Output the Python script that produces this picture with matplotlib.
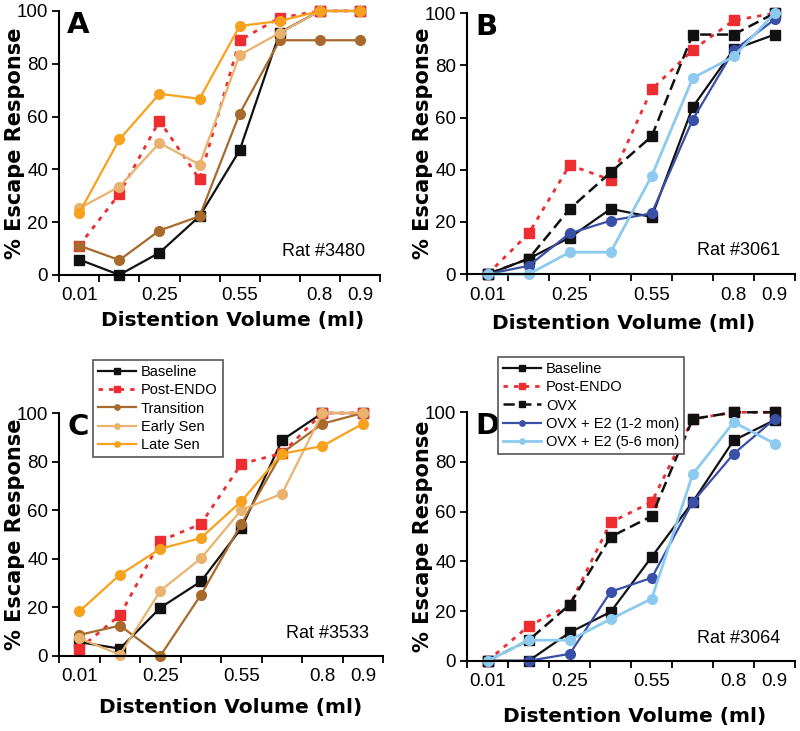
import matplotlib.pyplot as plt
import numpy as np

# category axis: 8 distention volumes (only some are labelled in the figure)
volumes = ['0.01', '0.1', '0.25', '0.4', '0.55', '0.7', '0.8', '0.9']
tick_labels = ['0.01', '', '0.25', '', '0.55', '', '0.8', '0.9']

# panel A, Rat #3480
a_baseline = [5.8, 0, 8.4, 22.2, 47.2, 91.8, 100, 100]
a_post_endo = [11.1, 30.7, 58.4, 36.2, 88.9, 97.4, 100, 100]
a_transition = [11.1, 5.6, 16.8, 22.2, 61.1, 88.9, 88.9, 88.9]
a_early_sen = [25.2, 33.4, 50.0, 41.8, 83.3, 91.7, 100, 100]
a_late_sen = [23.5, 51.3, 68.6, 66.7, 94.3, 96.2, 100, 100]

# panel B, Rat #3061
b_baseline = [0, 5.9, 14.0, 25.0, 21.9, 64.0, 86.1, 91.8]
b_post_endo = [0, 15.6, 41.8, 36.1, 70.8, 85.9, 97.2, 100]
b_ovx = [0, 5.9, 25.0, 39.0, 52.8, 91.8, 91.8, 100]
b_e2_early = [0, 3.2, 15.6, 20.5, 23.3, 59.2, 85.7, 97.6]
b_e2_late = [0, 0, 8.4, 8.4, 37.6, 75.1, 83.4, 100]

# panel C, Rat #3533
c_baseline = [5.6, 2.9, 19.8, 30.6, 52.6, 88.8, 100, 100]
c_post_endo = [2.9, 16.7, 47.3, 54.3, 79.1, 83.4, 100, 100]
c_transition = [8.6, 12.4, 0, 25.1, 54.3, 83.5, 95.6, 100]
c_early_sen = [7.2, 0.4, 26.8, 40.1, 60.1, 66.7, 100, 100]
c_late_sen = [18.3, 33.4, 44.1, 48.5, 63.7, 83.2, 86.4, 95.6]

# panel D, Rat #3064
d_baseline = [0, 0, 11.4, 19.7, 41.8, 63.9, 88.7, 96.9]
d_post_endo = [0, 14.0, 22.5, 55.7, 63.9, 97.3, 100, 100]
d_ovx = [0, 8.3, 22.6, 49.9, 58.2, 97.3, 100, 100]
d_e2_early = [0, 0, 2.8, 27.8, 33.4, 63.9, 83.3, 97.3]
d_e2_late = [0, 8.3, 8.3, 16.8, 25.0, 75.1, 96.0, 87.4]

BLACK = '#111111'
RED = '#ee2d30'
BROWN = '#a86a2c'
TAN = '#e9b36f'
ORANGE = '#f7a11c'
DBLUE = '#3a4fa6'
LBLUE = '#8ccbef'

MS = 7
LW = 1.6

styles = {
    'Baseline': dict(color=BLACK, marker='s', linestyle='-'),
    'Post-ENDO': dict(color=RED, marker='s', linestyle=(0, (1.6, 2.2)), linewidth=2.0),
    'OVX': dict(color=BLACK, marker='s', linestyle=(0, (4.5, 2.2)), linewidth=1.8),
    'Transition': dict(color=BROWN, marker='o', linestyle='-'),
    'Early Sen': dict(color=TAN, marker='o', linestyle='-'),
    'Late Sen': dict(color=ORANGE, marker='o', linestyle='-'),
    'OVX + E2 (1-2 mon)': dict(color=DBLUE, marker='o', linestyle='-'),
    'OVX + E2 (5-6 mon)': dict(color=LBLUE, marker='o', linestyle='-', linewidth=2.0),
}

sans = ['Liberation Sans', 'DejaVu Sans']


def draw_panel(ax, series, letter, rat, xlab_pos):
    x = np.arange(len(volumes))
    for name, vals in series:
        st = dict(linewidth=LW, markersize=MS)
        st.update(styles[name])
        ax.plot(x, vals, label=name, clip_on=False, **st)

    ax.set_xlim(-0.5, len(volumes) - 0.5)
    ax.set_ylim(0, 100)
    ax.set_xticks(x)
    ax.set_xticklabels(tick_labels)
    ax.set_xticks(np.arange(len(volumes) + 1) - 0.5, minor=True)
    ax.tick_params(axis='x', which='major', length=0, pad=9)
    ax.tick_params(axis='x', which='minor', length=5, width=1.3, direction='out')
    ax.set_yticks(np.arange(0, 101, 20))
    ax.tick_params(axis='y', length=5, width=1.3, direction='out', pad=3)
    for lab in ax.get_xticklabels() + ax.get_yticklabels():
        lab.set_family(sans)
        lab.set_fontsize(13.5)

    for s in ['top', 'right']:
        ax.spines[s].set_visible(False)
    for s in ['left', 'bottom']:
        ax.spines[s].set_linewidth(1.5)

    w_px = ax.get_position().width * 800
    ax.set_ylabel('% Escape Response', fontsize=15, fontweight='bold', ha='center', va='center')
    ax.yaxis.set_label_coords(-44 / w_px, 0.5)
    ax.set_xlabel('Distention Volume (ml)', fontsize=14.5, fontweight='bold')
    ax.xaxis.set_label_coords(*xlab_pos)
    ax.xaxis.label.set_va('center')
    ax.text(0.025, 1.0, letter, transform=ax.transAxes, fontsize=21,
            fontweight='bold', va='top', ha='left')
    ax.text(0.955, 0.09, rat, transform=ax.transAxes, fontsize=13,
            family=sans, ha='right', va='center')


fig = plt.figure(figsize=(8, 7.31), dpi=100)
axA = fig.add_axes([0.074, 0.624, 0.401, 0.361])
axB = fig.add_axes([0.584, 0.625, 0.41, 0.357])
axC = fig.add_axes([0.074, 0.103, 0.405, 0.332])
axD = fig.add_axes([0.584, 0.096, 0.41, 0.340])

draw_panel(axA, [('Baseline', a_baseline), ('Post-ENDO', a_post_endo),
                 ('Transition', a_transition), ('Early Sen', a_early_sen),
                 ('Late Sen', a_late_sen)], 'A', 'Rat #3480', (0.54, -0.174))
draw_panel(axB, [('Baseline', b_baseline), ('Post-ENDO', b_post_endo),
                 ('OVX', b_ovx), ('OVX + E2 (1-2 mon)', b_e2_early),
                 ('OVX + E2 (5-6 mon)', b_e2_late)], 'B', 'Rat #3061', (0.476, -0.188))
draw_panel(axC, [('Baseline', c_baseline), ('Post-ENDO', c_post_endo),
                 ('Transition', c_transition), ('Early Sen', c_early_sen),
                 ('Late Sen', c_late_sen)], 'C', 'Rat #3533', (0.53, -0.214))
draw_panel(axD, [('Baseline', d_baseline), ('Post-ENDO', d_post_endo),
                 ('OVX', d_ovx), ('OVX + E2 (1-2 mon)', d_e2_early),
                 ('OVX + E2 (5-6 mon)', d_e2_late)], 'D', 'Rat #3064', (0.51, -0.225))

for ax, anchor in [(axC, (0.116, 0.508)), (axD, (0.6225, 0.512))]:
    leg = ax.legend(loc='upper left', bbox_to_anchor=anchor, bbox_transform=fig.transFigure,
                    borderaxespad=0, fancybox=False, framealpha=1, edgecolor='#555555',
                    prop={'family': sans, 'size': 10.5}, markerscale=0.55,
                    handlelength=2.6, handletextpad=0.35, labelspacing=0.3,
                    borderpad=0.35)
    leg.get_frame().set_linewidth(1.2)
    leg.set_zorder(5)

fig.savefig('out.png', dpi=100)
